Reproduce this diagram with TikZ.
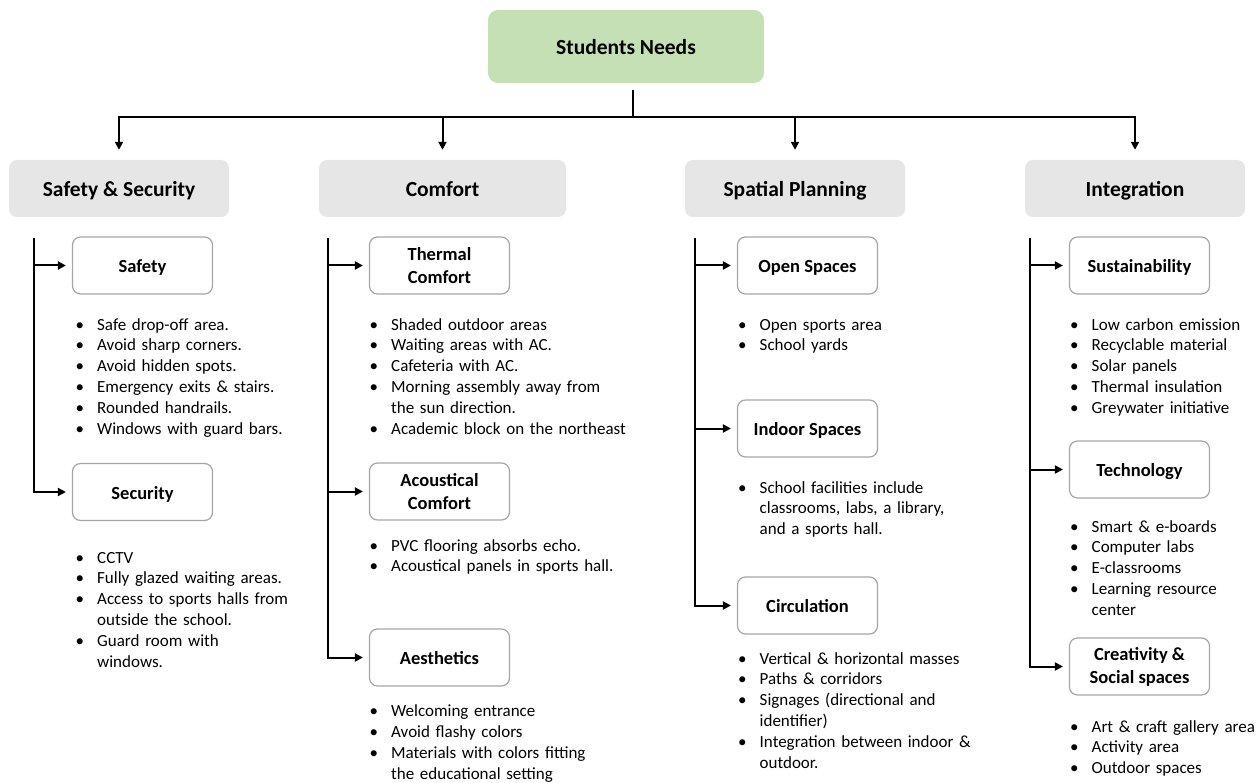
\documentclass[tikz,border=0pt]{standalone}
\usepackage{fontspec}
\setmainfont{Carlito}
\usetikzlibrary{arrows.meta}
\definecolor{topgreen}{HTML}{C5E0B4}
\definecolor{catgray}{HTML}{E7E6E6}
\definecolor{boxborder}{HTML}{A6A6A6}
\newcommand\bi[1]{\noindent\strut\makebox[21.5pt][l]{\textbullet}#1\par}
\newcommand\ci[1]{\noindent\strut\hspace*{21.5pt}#1\par}
\begin{document}
\begin{tikzpicture}[x=1pt,y=-1pt,
 topbox/.style={fill=topgreen, rounded corners=10pt, minimum width=276pt, minimum height=73pt, font=\fontsize{21.5}{26}\selectfont\bfseries, inner sep=0, text height=15.6pt, text depth=0pt},
 catbox/.style={fill=catgray, rounded corners=8pt, minimum height=57pt, font=\fontsize{21.5}{26}\selectfont\bfseries, inner sep=0, text height=20pt, text depth=4.5pt},
 subbase/.style={draw=boxborder, line width=1.2pt, fill=white, rounded corners=8pt, minimum width=140pt, minimum height=57pt, font=\fontsize{18.5}{23}\selectfont\bfseries, inner sep=0},
 subbox/.style={subbase, text height=17pt, text depth=3pt},
 subbox2/.style={subbase, align=center},
 blist/.style={anchor=north west, inner sep=0, text width=330pt, align=left, font=\fontsize{17}{20.8}\selectfont},
 conn/.style={line width=2pt},
 arr/.style={conn, -{Triangle[length=8pt,width=8pt]}}
]
\useasboundingbox (0,0) rectangle (1260,783);

% top
\node[topbox] (top) at (626,46.5) {Students Needs};

% categories
\node[catbox, minimum width=220pt] (sas) at (119,188.5) {Safety \& Security};
\node[catbox, minimum width=247pt] (com) at (442.5,188.5) {Comfort};
\node[catbox, minimum width=220pt] (spa) at (795,188.5) {Spatial Planning};
\node[catbox, minimum width=220pt] (int) at (1135,188.5) {Integration};

% tree connectors
\coordinate (j) at (633,117);
\draw[conn] (j |- top.south) ++(0,7) -- (j);
\draw[conn, line cap=rect] (sas.north |- j) -- (int.north |- j);
\foreach \c in {sas,com,spa,int}
  \draw[arr, shorten >=10pt] (\c.north |- j) -- (\c.north);

% sub boxes
\node[subbox] (safety) at (142.5,265.5) {Safety};
\node[subbox] (security) at (142.5,492) {Security};
\node[subbox2] (thermal) at (439.5,265.5) {Thermal\\Comfort};
\node[subbox2] (acoustic) at (439.5,491.5) {Acoustical\\Comfort};
\node[subbox] (aesth) at (439.5,657.5) {Aesthetics};
\node[subbox] (open) at (807.5,265.5) {Open Spaces};
\node[subbox] (indoor) at (807.5,428.5) {Indoor Spaces};
\node[subbox] (circ) at (807.5,605.5) {Circulation};
\node[subbox] (sust) at (1139.5,265.5) {Sustainability};
\node[subbox] (tech) at (1139.5,469.5) {Technology};
\node[subbox2] (creat) at (1139.5,666.5) {Creativity \&\\Social spaces};

% spines
\coordinate (s1) at (34,238);
\coordinate (s2) at (328,238);
\coordinate (s3) at (695,238);
\coordinate (s4) at (1030,238);
\foreach \s/\b in {s1/safety,s1/security,s2/thermal,s2/acoustic,s2/aesth,s3/open,s3/indoor,s3/circ,s4/sust,s4/tech,s4/creat}
  \draw[arr, shorten >=6pt] (\s) |- (\b.west);

% bullet lists
\node[blist] (l1) at (75.5,315.4) {%
\bi{Safe drop-off area.}
\bi{Avoid sharp corners.}
\bi{Avoid hidden spots.}
\bi{Emergency exits \& stairs.}
\bi{Rounded handrails.}
\bi{Windows with guard bars.}};
\node[blist] (l2) at (75.5,548.4) {%
\bi{CCTV}
\bi{Fully glazed waiting areas.}
\bi{Access to sports halls from}
\ci{outside the school.}
\bi{Guard room with}
\ci{windows.}};
\node[blist] (l3) at (369.5,315.4) {%
\bi{Shaded outdoor areas}
\bi{Waiting areas with AC.}
\bi{Cafeteria with AC.}
\bi{Morning assembly away from}
\ci{the sun direction.}
\bi{Academic block on the northeast}};
\node[blist] (l4) at (369.5,536.4) {%
\bi{PVC flooring absorbs echo.}
\bi{Acoustical panels in sports hall.}};
\node[blist] (l5) at (369.5,701.9) {%
\bi{Welcoming entrance}
\bi{Avoid flashy colors}
\bi{Materials with colors fitting}
\ci{the educational setting}};
\node[blist] (l6) at (738,315.4) {%
\bi{Open sports area}
\bi{School yards}};
\node[blist] (l7) at (738,478.4) {%
\bi{School facilities include}
\ci{classrooms, labs, a library,}
\ci{and a sports hall.}};
\node[blist] (l8) at (738,649.4) {%
\bi{Vertical \& horizontal masses}
\bi{Paths \& corridors}
\bi{Signages (directional and}
\ci{identifier)}
\bi{Integration between indoor \&}
\ci{outdoor.}};
\node[blist] (l9) at (1070,315.4) {%
\bi{Low carbon emission}
\bi{Recyclable material}
\bi{Solar panels}
\bi{Thermal insulation}
\bi{Greywater initiative}};
\node[blist] (l10) at (1070,517.4) {%
\bi{Smart \& e-boards}
\bi{Computer labs}
\bi{E-classrooms}
\bi{Learning resource}
\ci{center}};
\node[blist] (l11) at (1070,717.4) {%
\bi{Art \& craft gallery area}
\bi{Activity area}
\bi{Outdoor spaces}};
\end{tikzpicture}
\end{document}
